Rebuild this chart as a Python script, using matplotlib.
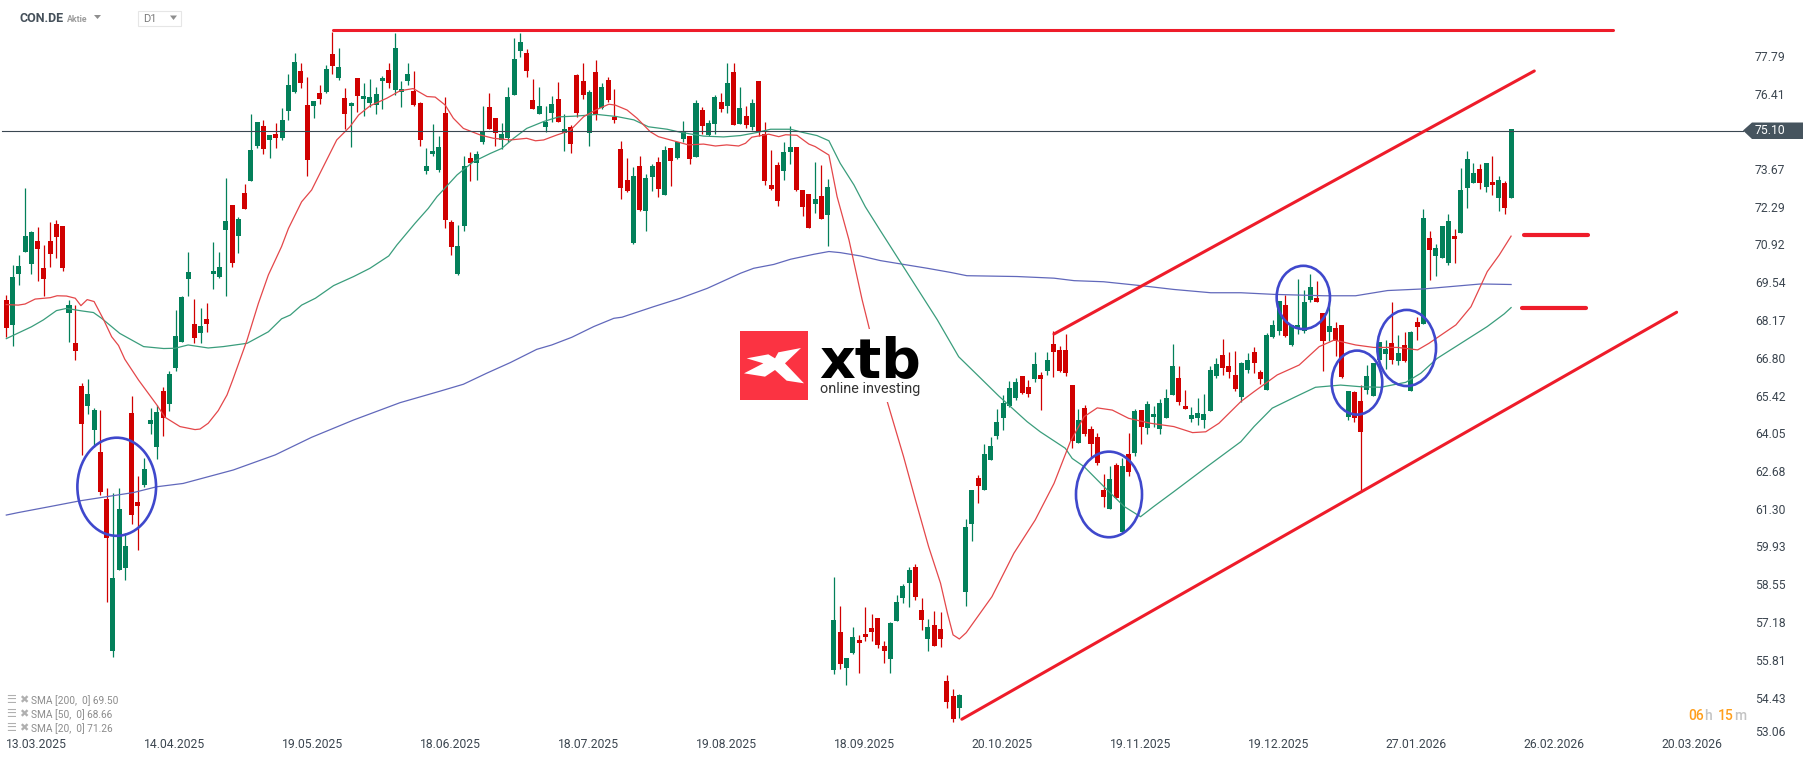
import matplotlib
matplotlib.use("Agg")
import matplotlib.pyplot as plt
from matplotlib.patches import Ellipse, Polygon, Rectangle
from matplotlib.transforms import Affine2D

plt.rcParams["font.family"] = ["Roboto", "DejaVu Sans"]

highs = [
    69.12, 70.21, 70.57, 73.01, 71.45, 71.59, 70.94, 71.77, 71.85, 71.63,
    68.94, 68.75, 65.90, 66.06, 65.01, 64.93, 62.09, 61.91, 62.09, 60.44,
    65.44, 62.53, 63.19, 65.01, 65.12, 65.77, 66.35, 68.57, 69.08, 70.68,
    68.97, 68.65, 68.83, 71.05, 70.68, 73.38, 72.39, 71.96, 73.16, 75.70,
    75.41, 75.49, 74.94, 75.38, 75.92, 77.16, 77.92, 77.56, 77.05, 76.18,
    76.76, 77.49, 78.69, 78.11, 76.65, 76.14, 77.02, 76.83, 76.98, 76.69,
    77.09, 77.56, 78.65, 76.91, 77.56, 77.27, 76.14, 74.47, 75.34, 74.90,
    76.32, 71.85, 71.66, 74.18, 74.32, 74.36, 76.00, 76.47, 75.56, 75.38,
    76.69, 78.47, 78.65, 78.07, 76.98, 76.69, 76.00, 76.36, 76.87, 75.70,
    75.30, 77.16, 77.56, 76.58, 77.67, 76.83, 77.05, 76.61, 74.72, 74.10,
    73.78, 74.18, 73.52, 73.89, 74.14, 74.54, 74.47, 74.69, 75.45, 74.90,
    76.21, 75.96, 75.49, 76.40, 76.47, 77.56, 77.56, 76.69, 76.00, 76.25,
    76.91, 75.41, 74.39, 73.96, 74.69, 75.27, 74.50, 72.94, 72.79, 73.96,
    73.85, 73.34, 58.86, 57.80, 55.91, 57.04, 56.75, 57.76, 57.51, 57.36,
    56.53, 57.22, 58.20, 58.60, 59.22, 59.33, 58.09, 57.33, 57.62, 57.58,
    55.29, 54.78, 54.60, 60.97, 62.02, 62.57, 63.70, 63.95, 64.97, 65.48,
    65.99, 66.10, 66.17, 66.03, 67.04, 66.32, 67.04, 67.81, 67.26, 67.70,
    65.84, 64.97, 65.12, 64.35, 64.10, 62.60, 62.90, 63.00, 63.19, 64.10,
    64.97, 64.93, 65.26, 65.08, 65.33, 65.70, 67.34, 66.53, 65.66, 65.04,
    65.37, 65.52, 66.53, 66.83, 67.52, 67.04, 67.08, 66.68, 67.01, 67.23,
    66.39, 67.74, 68.21, 68.90, 69.12, 68.03, 69.70, 69.30, 69.88, 69.63,
    68.46, 68.81, 68.13, 68.03, 65.62, 65.62, 65.84, 66.57, 66.65, 67.41,
    67.48, 68.86, 67.66, 67.77, 67.81, 68.32, 72.25, 71.45, 70.97, 71.63,
    72.07, 71.52, 73.74, 74.36, 73.92, 73.89, 73.92, 74.18, 73.45, 73.27,
    75.16,
]
lows = [
    67.58, 67.26, 69.48, 70.68, 69.88, 69.63, 69.08, 70.14, 70.46, 69.99,
    67.41, 66.75, 63.30, 64.79, 63.60, 61.84, 57.95, 55.94, 59.11, 58.75,
    60.78, 59.84, 62.13, 64.06, 63.15, 63.99, 64.90, 66.34, 67.41, 69.08,
    67.37, 67.37, 67.77, 69.34, 69.74, 69.08, 70.14, 70.65, 72.25, 73.27,
    74.47, 74.25, 74.10, 74.47, 74.76, 75.49, 76.47, 76.65, 73.45, 75.56,
    76.07, 76.47, 77.16, 76.94, 75.16, 74.50, 75.78, 75.63, 75.96, 75.70,
    75.89, 76.65, 76.40, 75.96, 76.76, 76.00, 74.54, 73.52, 74.18, 73.59,
    71.56, 70.57, 69.85, 71.45, 73.27, 73.30, 74.61, 75.16, 74.54, 74.43,
    74.69, 76.40, 77.78, 77.05, 75.89, 75.70, 75.05, 75.41, 75.41, 74.36,
    74.29, 75.60, 76.25, 74.54, 75.49, 75.89, 76.14, 75.38, 72.61, 72.87,
    70.97, 72.18, 71.45, 72.90, 72.68, 72.76, 73.08, 74.07, 74.69, 73.89,
    74.14, 74.98, 74.90, 74.98, 75.78, 75.74, 75.30, 75.34, 75.20, 75.12,
    74.90, 73.12, 72.94, 72.36, 73.30, 73.89, 72.90, 71.99, 71.56, 72.10,
    71.88, 70.90, 55.33, 55.51, 54.93, 56.05, 55.36, 56.53, 56.53, 56.27,
    55.73, 55.36, 57.26, 57.91, 57.76, 58.02, 56.93, 56.16, 56.35, 56.31,
    54.09, 53.58, 53.72, 57.80, 60.17, 61.55, 62.02, 63.11, 63.88, 64.21,
    65.04, 65.30, 65.52, 65.41, 65.95, 64.93, 66.21, 66.13, 66.32, 66.17,
    63.55, 63.73, 63.99, 63.19, 62.93, 61.40, 61.33, 61.73, 60.49, 62.53,
    63.26, 63.70, 64.06, 64.31, 64.06, 64.64, 65.48, 65.12, 64.97, 64.50,
    64.39, 64.28, 64.90, 66.10, 66.21, 66.10, 65.62, 65.22, 66.28, 66.28,
    65.88, 65.66, 67.55, 67.66, 67.59, 67.26, 67.70, 67.74, 68.86, 68.86,
    66.35, 67.44, 66.90, 66.10, 64.57, 64.50, 61.95, 65.52, 65.44, 66.75,
    66.43, 66.61, 66.57, 66.68, 65.62, 67.48, 68.06, 69.66, 69.81, 70.46,
    70.21, 70.28, 71.37, 72.28, 73.19, 72.98, 72.87, 72.76, 72.18, 72.07,
    72.65,
]
opens = [
    68.94, 68.03, 69.88, 70.68, 70.25, 71.08, 70.10, 71.08, 71.70, 71.63,
    68.46, 67.37, 65.81, 65.08, 64.21, 63.41, 61.69, 56.16, 59.11, 59.18,
    64.82, 61.58, 62.20, 64.42, 63.59, 65.62, 65.16, 66.46, 67.41, 69.70,
    68.06, 67.74, 68.25, 69.88, 69.77, 71.48, 72.39, 71.27, 72.83, 73.27,
    74.54, 75.27, 74.76, 74.98, 74.83, 75.81, 76.50, 77.27, 76.03, 76.00,
    76.47, 76.50, 77.89, 77.02, 76.29, 76.00, 77.02, 76.25, 76.11, 76.03,
    76.91, 77.31, 76.58, 76.50, 76.91, 76.54, 76.11, 73.63, 74.25, 73.67,
    75.74, 71.77, 69.88, 71.63, 74.10, 73.92, 74.69, 75.96, 75.56, 74.76,
    74.83, 76.40, 78.00, 77.92, 76.21, 75.70, 75.23, 75.74, 76.25, 75.01,
    75.23, 77.12, 76.91, 75.01, 77.23, 75.92, 76.94, 75.60, 74.43, 73.30,
    71.01, 73.81, 72.18, 73.41, 73.96, 72.76, 74.47, 74.10, 74.80, 74.90,
    74.14, 75.85, 74.94, 75.34, 76.14, 76.00, 77.23, 75.34, 75.63, 75.23,
    76.91, 74.98, 73.12, 73.85, 73.63, 74.32, 74.50, 72.94, 72.79, 72.43,
    72.72, 72.03, 55.47, 56.85, 55.54, 56.09, 56.56, 56.78, 57.00, 57.36,
    56.35, 55.87, 57.26, 58.09, 58.64, 59.22, 57.66, 56.60, 57.11, 56.96,
    55.07, 54.53, 54.09, 58.31, 60.78, 62.46, 62.02, 63.11, 63.99, 64.64,
    65.08, 65.37, 66.17, 65.77, 66.06, 66.21, 66.35, 67.34, 67.12, 67.12,
    65.84, 63.73, 65.01, 64.24, 63.95, 62.02, 61.33, 62.93, 60.49, 63.33,
    63.37, 64.93, 64.28, 64.68, 64.24, 64.64, 65.48, 66.10, 65.08, 64.61,
    64.64, 64.57, 64.90, 66.17, 66.93, 66.53, 66.21, 65.41, 66.39, 67.04,
    66.32, 65.66, 67.59, 67.81, 68.75, 67.30, 67.92, 67.81, 68.94, 69.01,
    68.46, 67.77, 67.92, 68.03, 64.68, 65.59, 65.26, 65.66, 65.44, 66.75,
    66.97, 67.37, 66.72, 67.30, 65.62, 68.13, 68.06, 71.19, 70.54, 70.46,
    70.28, 71.27, 71.37, 73.01, 73.19, 73.70, 73.05, 73.23, 72.65, 73.19,
    72.65,
]
closes = [
    67.92, 69.77, 70.17, 71.27, 71.41, 70.79, 69.70, 70.61, 71.23, 70.10,
    68.75, 67.08, 64.42, 65.52, 64.93, 61.95, 60.28, 58.82, 61.33, 59.98,
    61.11, 61.44, 62.79, 64.57, 64.86, 64.64, 66.24, 67.63, 69.05, 69.96,
    67.55, 67.99, 68.06, 69.99, 70.14, 71.81, 70.28, 71.88, 72.25, 74.39,
    75.41, 74.43, 74.94, 74.83, 75.49, 76.76, 77.60, 76.83, 74.03, 76.18,
    76.25, 77.34, 77.45, 77.42, 75.70, 76.11, 76.36, 76.36, 76.32, 76.43,
    77.02, 76.83, 78.11, 76.61, 77.16, 76.03, 74.76, 73.81, 74.36, 74.50,
    71.85, 70.86, 70.90, 73.81, 73.92, 74.25, 75.09, 75.16, 75.01, 74.98,
    76.32, 77.71, 78.32, 77.27, 75.89, 76.00, 75.41, 76.07, 75.41, 75.16,
    74.61, 75.74, 76.40, 76.50, 75.67, 76.69, 76.21, 75.49, 73.01, 72.90,
    73.45, 72.21, 73.38, 73.81, 72.98, 74.39, 73.99, 74.69, 75.09, 74.07,
    76.11, 75.27, 75.38, 76.32, 75.89, 76.83, 75.30, 75.92, 75.30, 76.11,
    75.05, 73.27, 72.98, 72.54, 74.32, 74.50, 72.94, 72.32, 71.56, 72.61,
    71.88, 73.05, 57.29, 55.69, 55.91, 56.67, 56.45, 56.67, 56.85, 56.38,
    56.16, 57.18, 57.95, 58.53, 59.11, 58.13, 57.29, 57.04, 56.35, 56.60,
    54.31, 53.69, 54.56, 60.68, 62.02, 62.17, 63.33, 63.62, 64.50, 65.19,
    65.73, 65.95, 65.55, 65.52, 66.61, 66.06, 66.75, 67.04, 66.35, 66.28,
    63.80, 64.57, 64.06, 63.70, 63.00, 61.77, 62.42, 61.73, 62.90, 62.68,
    64.90, 64.31, 65.15, 64.79, 65.19, 65.37, 66.53, 65.22, 64.97, 64.75,
    64.82, 64.79, 66.39, 66.61, 66.46, 66.32, 65.70, 66.64, 66.75, 66.64,
    66.06, 67.66, 68.03, 68.90, 67.63, 68.03, 68.03, 68.86, 69.41, 68.86,
    67.44, 67.99, 67.44, 66.13, 65.62, 64.64, 64.13, 66.17, 66.65, 67.41,
    67.15, 66.75, 67.01, 66.72, 67.77, 67.95, 71.92, 70.76, 70.83, 71.63,
    71.81, 71.16, 72.94, 74.07, 73.56, 73.19, 73.92, 73.12, 73.30, 72.28,
    75.16,
]

sma20_idx = [
    0, 1.9, 3.0, 4.6, 7.0, 8.1, 9.6, 11.0, 11.9, 12.9, 14.0, 15.5, 16.8, 17.9, 18.9, 21.1, 24.0, 25.3,
    27.7, 30.1, 30.9, 32.2, 33.8, 35.2, 36.1, 38.4, 40.2, 41.8, 43.9, 45.0, 47.1, 48.7, 50.3, 52.7, 54.8,
    56.2, 58.0, 60.7, 62.8, 64.9, 67.1, 68.4, 70.0, 71.3, 72.9, 75.6, 77.7, 80.4, 83.0, 84.4, 85.7, 87.8,
    89.9, 92.1, 94.2, 96.1, 97.1, 99.0, 100.6, 102.7, 104.0, 106.4, 108.8, 111.2, 113.1, 114.9, 116.8,
    117.9, 118.9, 121.6, 123.2, 124.3, 126.1, 128.0, 129.0, 131.2, 132.5, 134.4, 136.5, 137.3, 140.5,
    143.1, 145.0, 147.1, 149.0, 150.1, 151.0, 152.0, 153.1, 157.2, 160.7, 164.1, 167.1, 169.7, 171.9,
    174.0, 176.4, 179.0, 182.5, 186.2, 189.2, 191.3, 193.4, 196.9, 199.0, 202.7, 206.2, 209.4, 211.8,
    215.2, 218.1, 221.9, 225.1, 226.9, 231.2, 233.6, 236.2, 238.1, 240,
]
sma20 = [
    68.77, 68.75, 68.79, 68.97, 69.02, 69.09, 69.08, 69.00, 68.73, 68.95, 68.88, 68.23, 67.60, 67.28, 66.78, 66.02, 65.12, 64.67,
    64.33, 64.22, 64.24, 64.45, 64.91, 65.48, 66.02, 67.48, 68.81, 69.85, 70.88, 71.54, 72.51, 72.94, 73.67, 74.76, 75.24,
    75.67, 76.00, 76.28, 76.55, 76.63, 76.34, 76.32, 76.03, 75.55, 75.18, 74.94, 74.82, 74.76, 74.82, 74.73, 74.76, 74.94,
    75.10, 75.61, 75.87, 76.06, 76.03, 75.85, 75.55, 75.06, 74.88, 74.73, 74.58, 74.61, 74.54, 74.58, 74.54,
    74.64, 74.86, 74.97, 74.88, 74.95, 74.93, 74.61, 74.52, 74.21, 72.70, 71.12, 68.94, 68.21, 65.24,
    63.24, 61.66, 59.96, 58.63, 57.54, 56.75, 56.60, 56.83, 58.14, 59.72, 60.93, 62.26, 63.78, 64.69,
    65.01, 64.93, 64.63, 64.45, 64.33, 64.11, 64.14, 64.45, 65.24, 65.60, 66.21, 66.57, 67.24, 67.48,
    67.30, 67.21, 67.21, 67.12, 67.36, 68.03, 68.69, 69.97, 70.57, 71.26,
]
sma50_idx = [
    0, 4.0, 5.9, 8.0, 9.6, 12.0, 13.9, 15.2, 18.1, 21.9, 25.1, 26.9, 29.0, 32.2, 34.6, 38.4, 41.8, 43.9,
    45.3, 47.1, 49.3, 52.2, 55.4, 58.0, 61.0, 62.3, 65.2, 67.3, 68.7, 69.2, 71.9, 74.5, 77.2, 79.0, 80.9,
    83.0, 85.7, 88.1, 91.0, 94.2, 97.4, 100.1, 102.4, 105.4, 107.5, 111.2, 114.4, 117.1, 119.7, 121.9,
    125.1, 126.9, 129.3, 131.2, 133.0, 135.2, 137.0, 139.4, 148.5, 151.9, 155.4, 158.3, 162.8, 164.9,
    168.9, 170.0, 171.9, 175.6, 178.3, 180.9, 183.0, 186.2, 191.5, 196.9, 199.0, 201.9, 205.4, 208.8,
    212.8, 216.0, 219.2, 223.2, 225.6, 228.2, 232.0, 236.2, 238.9, 240,
]
sma50 = [
    67.53, 67.96, 68.21, 68.55, 68.63, 68.54, 68.48, 68.27, 67.72, 67.24, 67.17, 67.18, 67.30, 67.19, 67.24, 67.36, 67.78, 68.25,
    68.39, 68.75, 69.00, 69.46, 69.79, 70.09, 70.54, 70.94, 71.73, 72.27, 72.70, 72.82, 73.49, 73.97, 74.27, 74.45, 74.82,
    75.18, 75.43, 75.60, 75.63, 75.69, 75.61, 75.49, 75.24, 75.15, 75.04, 74.90, 74.87, 74.92, 75.03, 75.15,
    75.15, 75.04, 74.92, 74.73, 73.91, 73.12, 72.33, 71.46, 68.21, 66.87, 66.09, 65.44, 64.51, 64.14,
    63.54, 63.17, 62.87, 62.02, 61.42, 61.05, 61.42, 61.96, 62.87, 63.78, 64.33, 65.00, 65.39, 65.76,
    65.84, 65.78, 65.76, 65.94, 66.27, 66.81, 67.36, 67.97, 68.43, 68.66,
]
sma200_idx = [
    0, 1.9, 7.0, 11.8, 20.3, 24.0, 28.2, 36.2, 42.9, 48.7, 55.4, 62.8, 69.2, 72.9, 76.6, 80.4, 84.6, 87.0,
    90.2, 93.7, 96.9, 98.2, 103.2, 107.5, 111.8, 117.1, 119.2, 122.4, 125.1, 128.8, 131.2, 133.0, 136.2,
    139.4, 142.6, 146.9, 150.6, 153.2, 161.2, 167.1, 170.3, 175.0, 180.9, 186.2, 192.1, 196.9, 202.2,
    210.2, 215.2, 220.3, 226.1, 235.2, 240,
]
sma200 = [
    61.11, 61.20, 61.42, 61.63, 61.93, 62.14, 62.26, 62.75, 63.30, 63.94, 64.57, 65.20, 65.62, 65.87, 66.27, 66.66, 67.14, 67.30,
    67.58, 67.97, 68.27, 68.31, 68.69, 69.00, 69.36, 69.91, 70.09, 70.23, 70.42, 70.60, 70.70, 70.66, 70.54,
    70.37, 70.25, 70.09, 69.94, 69.82, 69.79, 69.73, 69.64, 69.60, 69.46, 69.32, 69.20, 69.20, 69.14,
    69.09, 69.09, 69.28, 69.34, 69.52, 69.50,
]

last_price = 75.10
price_ticks = [77.79, 76.41, 73.67, 72.29, 70.92, 69.54, 68.17, 66.80, 65.42, 64.05,
               62.68, 61.30, 59.93, 58.55, 57.18, 55.81, 54.43, 53.06]
date_ticks = list(range(0, 265, 22))
date_labels = ["13.03.2025", "14.04.2025", "19.05.2025", "18.06.2025", "18.07.2025", "19.08.2025",
               "18.09.2025", "20.10.2025", "19.11.2025", "19.12.2025", "27.01.2026", "26.02.2026", "20.03.2026"]

# hand drawn lines on the chart: x0, x1, y0, y1
trend_lines = [
    (52.1, 256.2, 78.75, 78.75, 2.2),
    (167.1, 243.7, 67.70, 77.27, 2.2),
    (152.4, 266.4, 53.68, 68.49, 2.2),
    (242.1, 252.3, 71.29, 71.29, 3.0),
    (241.8, 252.0, 68.63, 68.63, 3.0),
]
# circles: x, y, width, height
circles = [
    (17.61, 62.14, 12.55, 3.57),
    (175.87, 61.86, 10.53, 3.115),
    (206.86, 69.03, 8.5, 2.30),
    (215.42, 65.93, 8.07, 2.33),
    (223.35, 67.19, 9.36, 2.77),
]
legend_rows = ["SMA [200,  0] 69.50", "SMA [50,  0] 68.66", "SMA [20,  0] 71.26"]

W, H = 1815, 761
GREEN = "#03805a"
RED = "#d00000"
TEXT = "#3c4650"
LINE_RED = "#ee1c2a"

fig = plt.figure(figsize=(W / 100, H / 100), dpi=100, facecolor="white")
ax = fig.add_axes([0, 0, 1, 1])
ax.set_xlim(-1.005, 288.47)
ax.set_ylim(52.16, 79.853)
for s in ax.spines.values():
    s.set_visible(False)

# pixel coords for the screen furniture (logo, header, price tag)
px = Affine2D().scale(1 / W, -1 / H).translate(0, 1) + fig.transFigure

idx = list(range(len(opens)))
colors = [GREEN if c >= o else RED for o, c in zip(opens, closes)]
ax.vlines(idx, lows, highs, colors=colors, lw=0.9, zorder=2)
ax.bar(idx, [abs(c - o) for o, c in zip(opens, closes)], bottom=[min(o, c) for o, c in zip(opens, closes)],
       width=0.8, color=colors, lw=0, zorder=2)

ax.plot(sma200_idx, sma200, color="#6168bb", lw=0.9, zorder=3)
ax.plot(sma50_idx, sma50, color="#3a9d7c", lw=0.9, zorder=3)
ax.plot(sma20_idx, sma20, color="#e4474a", lw=0.9, zorder=3)

for x0, x1, y0, y1, lw in trend_lines:
    ax.plot([x0, x1], [y0, y1], color=LINE_RED, lw=lw, solid_capstyle="round", zorder=4)
for x, y, w, h in circles:
    ax.add_patch(Ellipse((x, y), w, h, fill=False, ec="#3f48cc", lw=1.9, zorder=4))

ax.yaxis.tick_right()
ax.set_yticks(price_ticks)
ax.set_yticklabels([f"{p:.2f}" for p in price_ticks])
ax.tick_params(axis="y", length=0, pad=-43.2, labelsize=8.7, labelcolor=TEXT)
ax.set_xticks(date_ticks)
ax.set_xticklabels(date_labels, ha="left")
ax.tick_params(axis="x", length=0, pad=-16.2, labelsize=8.7, labelcolor=TEXT)
for lab in ax.get_yticklabels()[:-1]:
    lab.set_transform(lab.get_transform() + Affine2D().translate(0, 1))
ax.get_yticklabels()[-1].set_transform(ax.get_yticklabels()[-1].get_transform() + Affine2D().translate(0, 5))

# current price
ax.plot([-0.7, 277], [last_price, last_price], color="#3a4752", lw=0.8, zorder=3.5)
ax.add_patch(Polygon([(1743, 130.5), (1752, 122.5), (1803, 122.5), (1803, 139), (1752, 139)],
                     transform=px, fc="#46545e", ec="none", zorder=6, clip_on=False))
ax.text(1755, 130.5, f"{last_price:.2f}", transform=px, color="white", fontsize=8.7, va="center", zorder=7)

# header
ax.text(20, 18.5, "CON.DE", transform=px, fontsize=9, fontweight="bold", color="#45505a", va="center")
ax.text(67, 19, "Aktie", transform=px, fontsize=6.3, fontweight="bold", color="#9c9c9c", va="center")
ax.add_patch(Polygon([(94, 15), (101, 15), (97.5, 19)], transform=px, fc="#8e8e8e", ec="none"))
ax.add_patch(Rectangle((138.5, 10.5), 43, 15, transform=px, fc="white", ec="#e6e6e6", lw=0.8))
ax.text(143, 19.5, "D1", transform=px, fontsize=8, color="#7c7c7c", va="center")
ax.add_patch(Polygon([(170, 15.5), (177, 15.5), (173.5, 20)], transform=px, fc="#8e8e8e", ec="none"))

# sma legend
for row, txt in zip([701, 715, 729], legend_rows):
    ax.text(6, row - 1, "\u2630", transform=px, fontsize=8, color="#b0b0b0", va="center", family="DejaVu Sans")
    ax.text(19, row - 1, "\u2716", transform=px, fontsize=8, color="#b0b0b0", va="center", family="DejaVu Sans")
    ax.text(31, row, txt, transform=px, fontsize=7.3, color="#8c8c8c", va="center")

# countdown
for x, txt, col in [(1688, "06", "#ff9f1c"), (1704, "h", "#c4c4c4"), (1717.5, "15", "#ff9f1c"), (1734, "m", "#c4c4c4")]:
    ax.text(x, 716, txt, transform=px, fontsize=10, fontweight="medium", color=col, va="center")

# logo
ax.add_patch(Rectangle((738, 329), 184, 73, transform=px, fc="white", ec="none", zorder=5))
ax.add_patch(Rectangle((740, 331), 68, 69, transform=px, fc="#fb3342", ec="none", zorder=6))
cross = [(80, 115), (130, 130), (72, 160), (135, 170), (165, 150), (200, 182), (252, 190),
         (195, 130), (243, 84), (175, 97), (165, 115), (145, 103)]
ax.add_patch(Polygon([(720 + a / 3, 320 + b / 3) for a, b in cross], transform=px, fc="white", ec="none", zorder=7))
ax.text(819, 377, "xtb", transform=px, fontsize=40, fontweight="bold", family="DejaVu Sans", color="black",
        va="baseline", zorder=7)
ax.text(820, 389.5, "online investing", transform=px, fontsize=10.4, color="#333333", va="center", zorder=7)

fig.savefig("out.png", dpi=100)
